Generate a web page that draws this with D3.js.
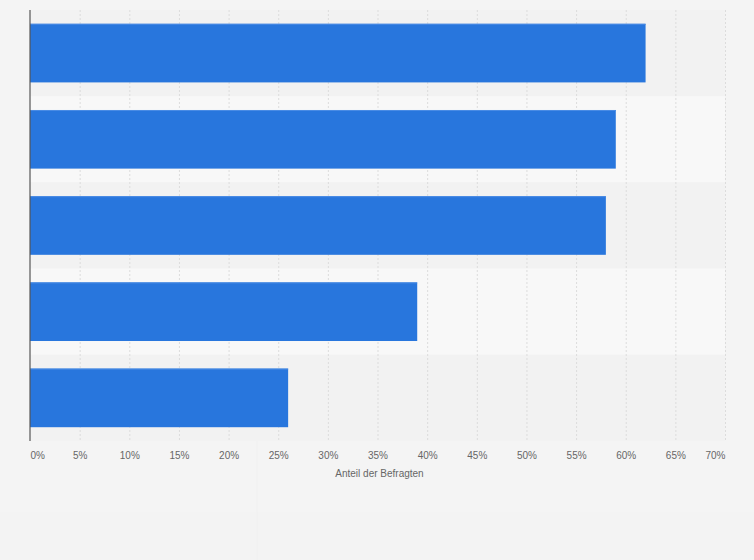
<!DOCTYPE html>
<html>
<head>
<meta charset="utf-8">
<script src="https://cdn.jsdelivr.net/npm/d3@7"></script>
<style>
  body { margin: 0; background: #f4f4f4; }
  text { font-family: "Liberation Sans", Arial, sans-serif; }
</style>
</head>
<body>
<script>
// categories are not labelled in the picture, keep ids only
const categories = ["A", "B", "C", "D", "E"];
const shares = [62, 59, 58, 39, 26];
const tickValues = [0, 5, 10, 15, 20, 25, 30, 35, 40, 45, 50, 55, 60, 65, 70];
const axisTitle = "Anteil der Befragten";

const W = 754, H = 560;
const margin = {top: 10, right: 29, bottom: 119, left: 30};
const width = W - margin.left - margin.right;
const height = H - margin.top - margin.bottom;

const svg = d3.select("body").append("svg")
    .attr("width", W)
    .attr("height", H);

svg.append("rect").attr("width", W).attr("height", H).attr("fill", "#f4f4f4");
// faint panel seams seen in the bottom area
svg.append("rect").attr("x", 0).attr("y", 512).attr("width", W).attr("height", 48).attr("fill", "#f3f3f3");
svg.append("line").attr("x1", 257).attr("x2", 257).attr("y1", 441).attr("y2", H)
    .attr("stroke", "#f0f0f0").attr("stroke-width", 1);

const g = svg.append("g")
    .attr("transform", "translate(" + margin.left + "," + margin.top + ")");

const x = d3.scaleLinear().domain([0, 70]).range([0, width]);
const y = d3.scaleBand().domain(categories).range([0, height]).paddingInner(0.32).paddingOuter(0.16);
const band = d3.scaleBand().domain(categories).range([0, height]);

// alternating row backgrounds
g.selectAll(".row").data(categories).enter().append("rect")
    .attr("class", "row")
    .attr("x", 0)
    .attr("y", d => band(d))
    .attr("width", width)
    .attr("height", band.bandwidth())
    .attr("fill", (d, i) => i % 2 ? "#f8f8f8" : "#f2f2f2");

// grid lines
g.selectAll(".grid").data(tickValues.slice(1)).enter().append("line")
    .attr("class", "grid")
    .attr("x1", d => x(d) + 0.5).attr("x2", d => x(d) + 0.5)
    .attr("y1", 0).attr("y2", height)
    .attr("stroke", "#dcdcdc")
    .attr("stroke-dasharray", "2,2");

// bars
g.selectAll(".bar").data(shares).enter().append("rect")
    .attr("class", "bar")
    .attr("x", 0)
    .attr("y", (d, i) => y(categories[i]))
    .attr("width", d => x(d))
    .attr("height", y.bandwidth())
    .attr("fill", "#2876dd");

g.selectAll(".barTop").data(shares).enter().append("line")
    .attr("class", "barTop")
    .attr("x1", 0).attr("x2", d => x(d))
    .attr("y1", (d, i) => y(categories[i]) + 0.5)
    .attr("y2", (d, i) => y(categories[i]) + 0.5)
    .attr("stroke", "#4a8ce4");

// y axis line
g.append("line")
    .attr("x1", 0).attr("x2", 0).attr("y1", 0).attr("y2", height)
    .attr("stroke", "#555").attr("stroke-width", 1.2);

// x axis labels
const xAxis = d3.axisBottom(x).tickValues(tickValues).tickSize(0).tickPadding(11)
    .tickFormat(d => d + "%");
const ax = g.append("g")
    .attr("transform", "translate(0," + height + ")")
    .call(xAxis);
ax.select(".domain").remove();
ax.selectAll("text")
    .attr("fill", "#666")
    .style("font-size", "10px")
    .attr("text-anchor", (d, i) => i === 0 ? "start" : (i === tickValues.length - 1 ? "end" : "middle"));

g.append("text")
    .attr("x", width / 2 + 2)
    .attr("y", height + 36)
    .attr("text-anchor", "middle")
    .attr("fill", "#666")
    .style("font-size", "10px")
    .text(axisTitle);
</script>
</body>
</html>
